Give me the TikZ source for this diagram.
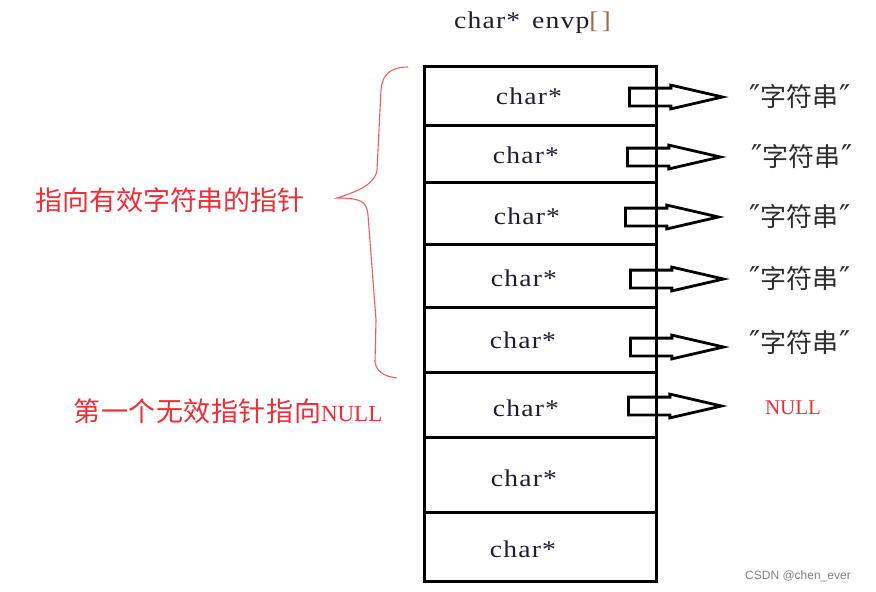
\documentclass[tikz,border=0pt]{standalone}
\usepackage{fontspec}
\setmainfont{Liberation Serif}
\newfontfamily\cjk{Noto Sans CJK SC}
\newfontfamily\cjkw[LetterSpace=2]{Noto Sans CJK SC}
\newfontfamily\cfont[FakeStretch=1.15,LetterSpace=5]{Liberation Serif}
\newfontfamily\wfont{Liberation Sans}
\newfontfamily\qfont{DejaVu Sans}
\usetikzlibrary{shapes.arrows}
\definecolor{redtxt}{RGB}{240,45,55}
\definecolor{bracered}{RGB}{245,90,95}
\definecolor{celltxt}{RGB}{30,30,45}
\definecolor{strtxt}{RGB}{45,45,45}
\definecolor{brk}{RGB}{150,110,70}
\newcommand{\qq}{{\qfont\fontsize{30}{30}\selectfont ″}}
\newcommand{\zfc}{\qq\hspace{0pt}字符串\hspace{1pt}\qq}
\tikzset{
  cell/.style={draw=black, line width=3pt, minimum width=232pt, inner sep=0pt},
  ctext/.style={text=celltxt, font=\cfont\fontsize{24}{26}\selectfont, inner sep=0pt},
  stext/.style={text=strtxt, font=\cjk\fontsize{26}{28}\selectfont, inner sep=0pt},
  redlab/.style={text=redtxt, inner sep=0pt},
  blockarrow/.style={single arrow, draw=black, line width=2.8pt, inner sep=0pt,
    minimum width=21pt, single arrow head extend=3pt, single arrow tip angle=26,
    minimum height=93pt, text height=15pt, text depth=0pt, anchor=west}
}
\begin{document}
\begin{tikzpicture}[x=1pt,y=-1pt]
\useasboundingbox (0,0) rectangle (876,592);
% title
\node[ctext] (title) at (532.5,23) {char*\hspace{12pt}envp\textcolor{brk}{[\kern3pt]}};
% cells
\node[cell, minimum height=59pt] (c1) at (540,95.5) {};
\node[cell, minimum height=57pt] (c2) at (540,153.5) {};
\node[cell, minimum height=62pt] (c3) at (540,213) {};
\node[cell, minimum height=63pt] (c4) at (540,275.5) {};
\node[cell, minimum height=65pt] (c5) at (540,339.5) {};
\node[cell, minimum height=65pt] (c6) at (540,404.5) {};
\node[cell, minimum height=75pt] (c7) at (540,474.5) {};
\node[cell, minimum height=69pt] (c8) at (540,546.5) {};
% cell texts
\node[ctext] (t1) at (529,96) {char*};
\node[ctext] (t2) at (526,155) {char*};
\node[ctext] (t3) at (527,216) {char*};
\node[ctext] (t4) at (524,278) {char*};
\node[ctext] (t5) at (523,340) {char*};
\node[ctext] (t6) at (526,408) {char*};
\node[ctext] (t7) at (524,478) {char*};
\node[ctext] (t8) at (523,549) {char*};
% block arrows
\node[blockarrow] (a1) at (628,97) {};
\node[blockarrow] (a2) at (626,157) {};
\node[blockarrow] (a3) at (624,217) {};
\node[blockarrow] (a4) at (629,279) {};
\node[blockarrow] (a5) at (629,347) {};
\node[blockarrow] (a6) at (627,406) {};
% targets
\node[stext] (s1) at (800,97) {\zfc};
\node[stext] (s2) at (802,157) {\zfc};
\node[stext] (s3) at (800,217) {\zfc};
\node[stext] (s4) at (800,279) {\zfc};
\node[stext] (s5) at (800,343) {\zfc};
\node[redlab, font=\fontsize{21}{24}\selectfont] (null) at (793,408) {NULL};
% brace
\draw[bracered, line width=1.1pt] (408,67) .. controls (390,67) and (382,75) .. (381,90)
  -- (377,170) .. controls (375,186) and (352,193) .. (337,198)
  .. controls (360,198) and (367,201) .. (368,215)
  -- (376,320) -- (375,362) .. controls (377,375) and (390,377) .. (397,378);
% red labels
\node[redlab, font=\cjk\fontsize{27}{30}\selectfont] (lab1) at (170,200) {指向有效字符串的指针};
\node[redlab, font=\fontsize{23}{30}\selectfont] (lab2) at (228,411) {{\cjkw\fontsize{27}{30}\selectfont 第一个无效指针指向}NULL};
% watermark
\node[text=gray, font=\wfont\fontsize{12}{14}\selectfont, inner sep=0pt] (wm) at (798,576) {CSDN @chen\_ever};
\end{tikzpicture}
\end{document}
